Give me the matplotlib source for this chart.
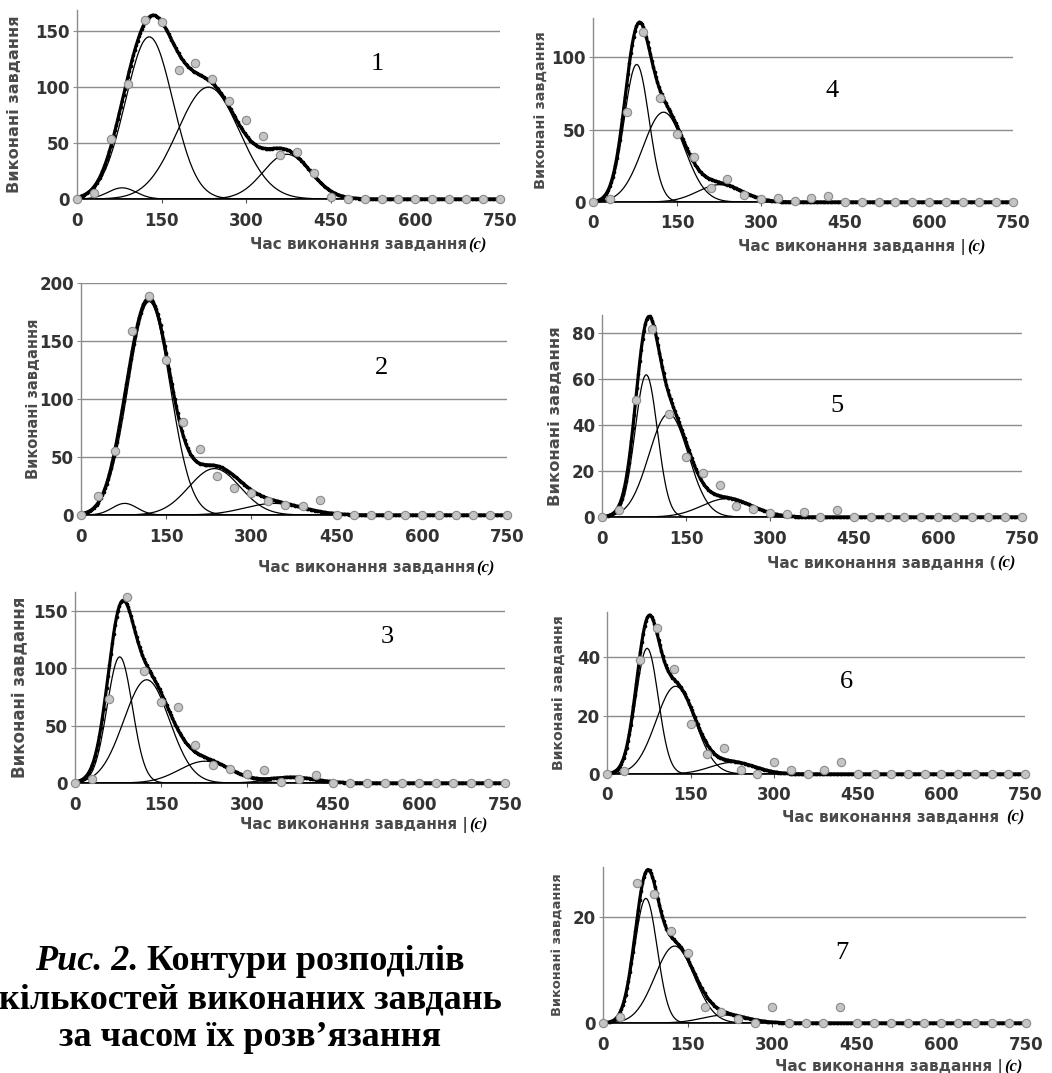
import numpy as np
import matplotlib.pyplot as plt

W, H = 1052, 1073

# observed counts, one value every 30 s from 0 to 750
x_obs = np.arange(0, 751, 30)
obs1 = [0, 5, 54, 103, 160, 158, 115, 122, 107, 88, 71, 56, 39, 42, 23, 2,
        0, 0, 0, 0, 0, 0, 0, 0, 0, 0]
obs2 = [0, 16, 55, 159, 189, 134, 80, 57, 34, 23, 19, 12, 9, 8, 13, 0,
        0, 0, 0, 0, 0, 0, 0, 0, 0, 0]
obs3 = [0, 3.5, 73, 162, 98, 71, 66, 33, 16, 12, 8, 11, 0.5, 3.5, 7, 0,
        0, 0, 0, 0, 0, 0, 0, 0, 0, 0]
obs4 = [0, 2, 62, 117, 72, 47, 31, 10, 16, 5, 2, 3, 0.5, 3, 4, 0,
        0, 0, 0, 0, 0, 0, 0, 0, 0, 0]
obs5 = [0, 3, 51, 82, 45, 26, 19, 14, 5, 3.6, 1.7, 1.5, 2.2, 0, 3.2, 0,
        0, 0, 0, 0, 0, 0, 0, 0, 0, 0]
obs6 = [0, 1, 39, 50, 36, 17, 7, 9, 1.3, 0, 4, 1.3, 0, 1.3, 4, 0,
        0, 0, 0, 0, 0, 0, 0, 0, 0, 0]
obs7 = [0, 1.1, 26.4, 24.3, 17.3, 13.2, 3, 2, 0.8, 0, 3, 0, 0, 0, 3, 0,
        0, 0, 0, 0, 0, 0, 0, 0, 0, 0]

# fitted gaussian components (amplitude, centre, width)
amp1, mu1, sd1 = [10, 145, 100, 40], [80, 128, 233, 372], [25, 42, 55, 42]
amp2, mu2, sd2 = [10, 184, 40, 10], [77, 120, 235, 340], [22, 37, 45, 52]
amp3, mu3, sd3 = [110, 90, 19, 5], [78, 125, 227, 380], [22, 40, 45, 40]
amp4, mu4, sd4 = [95, 62, 12], [78, 126, 227], [22, 37, 40]
amp5, mu5, sd5 = [62, 45, 8], [79, 119, 223], [20, 35, 45]
amp6, mu6, sd6 = [43, 30, 4], [72, 123, 226], [20, 35, 40]
amp7, mu7, sd7 = [23.5, 14.5, 1.5], [76, 127, 216], [20, 35, 40]

panel_names = ['1', '2', '3', '4', '5', '6', '7']
observed = [obs1, obs2, obs3, obs4, obs5, obs6, obs7]
amps = [amp1, amp2, amp3, amp4, amp5, amp6, amp7]
mus = [mu1, mu2, mu3, mu4, mu5, mu6, mu7]
sds = [sd1, sd2, sd3, sd4, sd5, sd6, sd7]
y_max = [169, 200, 166.5, 127, 88, 55.4, 29.4]
y_ticks = [[0, 50, 100, 150], [0, 50, 100, 150, 200], [0, 50, 100, 150],
           [0, 50, 100], [0, 20, 40, 60, 80], [0, 20, 40], [0, 20]]
x_ticks = [0, 150, 300, 450, 600, 750]
ylabel = 'Виконані завдання'
xlabel = 'Час виконання завдання'
xlabel_tail = ['', '', ' |', ' |', ' (', ' ', ' |']

# layout in pixels: left, right, top, bottom (bottom = zero line)
rects = [(77, 500, 10, 199), (81, 507, 283, 515), (75, 505, 592, 783),
         (593, 1013, 18, 202), (602, 1022, 315, 517), (607, 1025, 612, 774),
         (603, 1026, 867, 1023)]
num_pos = [(377, 64), (382, 368), (387, 637), (832, 91), (837, 406),
           (846, 682), (842, 953)]
ylab_x = [15, 34, 20, 542, 555, 560, 558]
ylab_size = [11.6, 10.5, 12.0, 10.4, 11.8, 10.2, 9.4]
xlab_pos = [(250, 245), (258, 568), (240, 825), (738, 247), (767, 563),
            (782, 817), (775, 1067)]

GRID = '#8c8c8c'
TXT = '#4a4a4a'

fig = plt.figure(figsize=(W / 100, H / 100), dpi=100)
xs = np.arange(0, 750.1, 2.5)

for i in range(7):
    L, R, T, B = rects[i]
    ax = fig.add_axes([L / W, 1 - B / H, (R - L) / W, (B - T) / H])
    ax.set_xlim(0, 750)
    ax.set_ylim(0, y_max[i])
    ax.set_xticks(x_ticks)
    ax.set_yticks(y_ticks[i])
    ax.yaxis.grid(True, color=GRID, lw=1.0)
    ax.set_axisbelow(True)
    for s in ['top', 'right']:
        ax.spines[s].set_visible(False)
    ax.spines['left'].set_color(GRID)
    ax.spines['left'].set_linewidth(1.0)
    ax.spines['bottom'].set_color('black')
    ax.spines['bottom'].set_linewidth(1.2)
    ax.tick_params(axis='y', length=3, width=0.8, color=GRID, pad=2,
                   labelsize=12, labelcolor='#333333')
    ax.tick_params(axis='x', length=3, width=0.8, color='#555555', pad=6,
                   labelsize=12, labelcolor='#333333')
    for lab in ax.get_xticklabels() + ax.get_yticklabels():
        lab.set_fontweight('bold')

    total = np.zeros_like(xs)
    for a, m, s in zip(amps[i], mus[i], sds[i]):
        comp = a * np.exp(-0.5 * ((xs - m) / s) ** 2)
        total += comp
        ax.plot(xs, comp, color='black', lw=0.9, zorder=3)
    ax.plot(xs, total, color='black', lw=2.3, marker='.', ms=3.2,
            zorder=4, clip_on=False)
    ax.plot(x_obs, observed[i], 'o', ms=6, mfc='#c4c4c4', mec='#8a8a8a',
            mew=0.8, zorder=5, clip_on=False)

    nx, ny = num_pos[i]
    fig.text(nx / W, 1 - ny / H, panel_names[i], ha='center', va='center',
             fontsize=19, family='Liberation Serif')
    fig.text(ylab_x[i] / W, 1 - (T + B) / 2 / H, ylabel, rotation=90,
             ha='center', va='center', fontsize=ylab_size[i],
             fontweight='bold', color=TXT)
    lx, ly = xlab_pos[i]
    t = fig.text(lx / W, 1 - ly / H, xlabel + xlabel_tail[i], ha='left',
                 va='center', fontsize=11, fontweight='bold', color=TXT)
    ax.annotate('(c)', xy=(1, 0.5), xycoords=t, xytext=(1, 0),
                textcoords='offset points', ha='left', va='center',
                fontsize=12, fontstyle='italic', fontweight='bold',
                family='Liberation Serif', color='black')

# caption
r = fig.canvas.get_renderer()
cap_x = 250
cap_size = 26
a = fig.text(0, 1 - 962 / H, 'Рис. 2.', va='center', fontsize=cap_size,
             family='Liberation Serif', fontweight='bold', fontstyle='italic')
b = fig.text(0, 1 - 962 / H, ' Контури розподілів', va='center',
             fontsize=cap_size, family='Liberation Serif', fontweight='bold')
wa = a.get_window_extent(r).width
wb = b.get_window_extent(r).width
x0 = cap_x - (wa + wb) / 2
a.set_x(x0 / W)
b.set_x((x0 + wa) / W)
fig.text(cap_x / W, 1 - 1000 / H, 'кількостей виконаних завдань',
         ha='center', va='center', fontsize=cap_size,
         family='Liberation Serif', fontweight='bold')
fig.text(cap_x / W, 1 - 1037 / H, 'за часом їх розв’язання',
         ha='center', va='center', fontsize=cap_size,
         family='Liberation Serif', fontweight='bold')

fig.savefig('out.png', dpi=100)
